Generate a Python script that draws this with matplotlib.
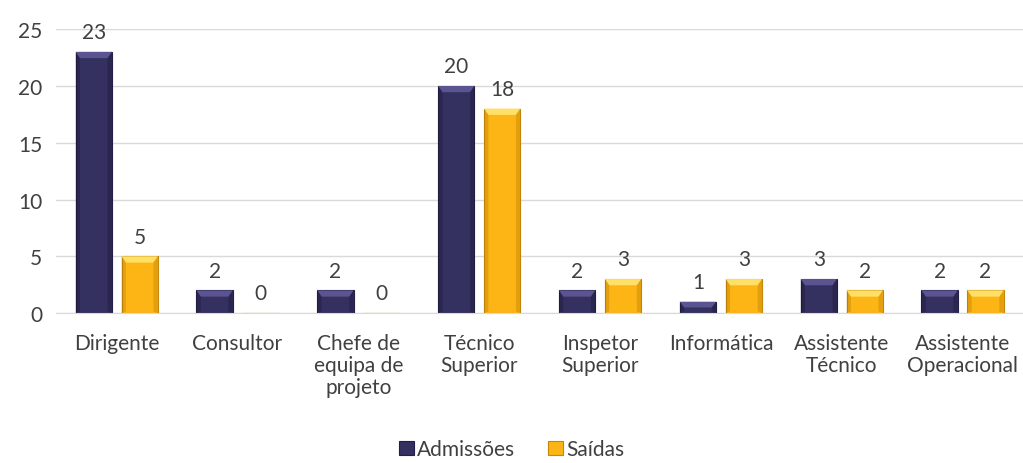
import matplotlib.pyplot as plt
from matplotlib.patches import Polygon
import numpy as np

categories = ['Dirigente', 'Consultor', 'Chefe de\nequipa de\nprojeto', 'Técnico\nSuperior',
              'Inspetor\nSuperior', 'Informática', 'Assistente\nTécnico', 'Assistente\nOperacional']
admissoes = [23, 2, 2, 20, 2, 1, 3, 2]
saidas = [5, 0, 0, 18, 3, 3, 2, 2]
yticks = [0, 5, 10, 15, 20, 25]

plt.rcParams['font.family'] = ['Lato', 'DejaVu Sans']

navy = '#34305F'
navy_edge = '#221E45'
gold = '#FDB515'
gold_edge = '#C4870A'
txt = '#404040'
fs = 15


def bevel(ax, bars, light, dark):
    # fake the Office bevel: lighter top wedge, darker sides
    for b in bars:
        h = b.get_height()
        if h <= 0:
            continue
        x0, w, y1 = b.get_x(), b.get_width(), h
        dx = w * 0.12
        dy = 0.55
        if h < 2 * dy:
            dy = h / 2
        ax.add_patch(Polygon([(x0, y1), (x0 + w, y1), (x0 + w - dx, y1 - dy), (x0 + dx, y1 - dy)],
                             closed=True, facecolor=light, edgecolor='none', zorder=3))
        ax.add_patch(Polygon([(x0, 0), (x0, y1), (x0 + dx, y1 - dy), (x0 + dx, dy * 0.3)],
                             closed=True, facecolor=dark, edgecolor='none', alpha=0.3, zorder=3))
        ax.add_patch(Polygon([(x0 + w, 0), (x0 + w, y1), (x0 + w - dx, y1 - dy), (x0 + w - dx, dy * 0.3)],
                             closed=True, facecolor=dark, edgecolor='none', alpha=0.3, zorder=3))


fig = plt.figure(figsize=(10.23, 4.64), dpi=100)
ax = fig.add_axes([0.055, 0.323, 0.945, 0.612])

x = np.arange(len(categories))
w = 0.30
off = 0.19
b1 = ax.bar(x - off, admissoes, w, color=navy, edgecolor=navy_edge, linewidth=0.8, zorder=2, label='Admissões')
b2 = ax.bar(x + off, saidas, w, color=gold, edgecolor=gold_edge, linewidth=0.8, zorder=2, label='Saídas')
bevel(ax, b1, '#5A5590', '#15122E')
bevel(ax, b2, '#FFE066', '#A86E00')

for xi, v in zip(x - off, admissoes):
    ax.annotate(str(v), (xi, v), xytext=(0, 7), textcoords='offset points',
                ha='center', va='bottom', fontsize=fs, color=txt)
for xi, v in zip(x + off, saidas):
    ax.annotate(str(v), (xi, v), xytext=(0, 7), textcoords='offset points',
                ha='center', va='bottom', fontsize=fs, color=txt)

ax.set_xlim(-0.5, len(categories) - 0.5)
ax.set_ylim(0, 25)
ax.set_yticks(yticks)
ax.set_xticks(x)
ax.set_xticklabels(categories, fontsize=fs, color=txt, linespacing=1.15, va='top')
ax.tick_params(axis='y', labelsize=fs, labelcolor=txt, length=0, pad=10)
ax.tick_params(axis='x', length=0, pad=14)
ax.yaxis.grid(True, color='#D9D9D9', linewidth=1)
ax.set_axisbelow(True)
for s in ['top', 'right', 'left']:
    ax.spines[s].set_visible(False)
ax.spines['bottom'].set_color('#D9D9D9')

fig.legend(handles=[b1, b2], loc='lower center', bbox_to_anchor=(0.5, -0.032), ncol=2, frameon=False,
           fontsize=fs, handlelength=0.7, handleheight=0.7, handletextpad=0.15, columnspacing=1.6,
           labelcolor=txt)

fig.savefig('out.png', dpi=100)
